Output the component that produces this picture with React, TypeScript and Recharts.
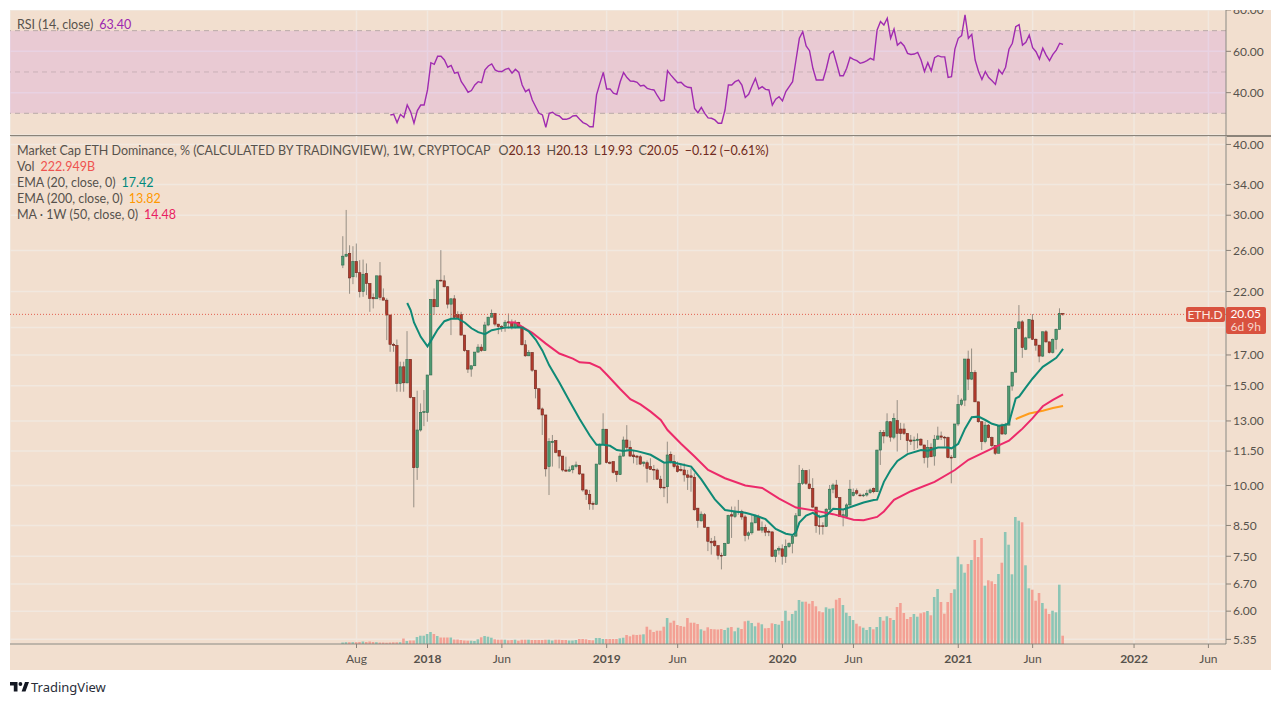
import { Bar, CartesianGrid, Cell, ComposedChart, Line, ReferenceArea, ReferenceLine, XAxis, YAxis } from 'recharts';

// weekly candles, index 0 is the first week on the chart
const opens = [
  24.5, 25.4, 25.68, 23.36, 24.85, 23.75, 22, 23.68, 22.73, 21.48,
  21.36, 23.45, 21.45, 21.24, 20, 17.75, 17.67, 15.14, 16.2, 15.18,
  16.7, 14.3, 10.75, 12.53, 13.45, 13.45, 15.67, 21.3, 20.68, 23.04,
  22.98, 22.43, 20.9, 21.36, 20.04, 20.04, 18.43, 17.3, 16.05, 16.27,
  17.2, 17.55, 17.3, 19.2, 19.82, 20.12, 19.27, 19.08, 19.12, 19.45,
  19.42, 19, 19.4, 19.06, 17.72, 16.94, 17.17, 15.98, 14.82, 13.65,
  13.32, 10.8, 11.9, 12, 11.52, 11.27, 10.65, 10.6, 10.66, 10.8,
  10.85, 10.48, 9.82, 9.64, 9.3, 9.26, 10.91, 11.82, 12.57, 10.98,
  11.02, 10.6, 10.45, 11.27, 12.03, 11.68, 11.32, 11.27, 11.24, 10.94,
  10.97, 10.8, 10.68, 10.65, 10.26, 9.93, 9.95, 11.35, 11.02, 10.83,
  10.68, 10.65, 10.44, 10.4, 10.34, 9.12, 8.66, 8.88, 8.44, 7.97,
  7.98, 7.83, 7.53, 7.52, 7.9, 8.88, 8.82, 8.97, 9, 8.8,
  8.16, 8.25, 8.59, 8.82, 8.34, 8.43, 8.3, 8.28, 7.5, 7.69,
  7.73, 7.5, 7.8, 7.9, 8.14, 8.84, 10.09, 10.62, 10.06, 9.88,
  9.16, 8.49, 8.49, 8.47, 9.08, 9.85, 10.02, 9.52, 8.82, 8.82,
  9.24, 9.6, 9.79, 9.62, 9.6, 9.62, 9.72, 9.88, 9.75, 11.55,
  12.4, 12.23, 12.96, 12.17, 13.02, 12.58, 12.58, 12.36, 12.03, 12,
  12, 12.07, 11.79, 11.22, 11.68, 11.27, 12.07, 12.23, 12.17, 12.15,
  11.22, 11.2, 12.84, 13.9, 14.15, 16.72, 15.41, 15.83, 14.05, 12.96,
  11.95, 12.78, 12.15, 11.76, 11.4, 12.78, 12.33, 12.78, 14.98, 15.85,
  18.93, 19.45, 17.4, 18.22, 19.59, 18.12, 17.69, 16.92, 18.68, 17.93,
  17.17, 18.1, 18.86, 20.13,
];
const highs = [
  27.55, 30.65, 26.55, 26.45, 26.74, 25, 25.05, 24.66, 22.73, 21.83,
  23.45, 24.8, 22.28, 21.4, 20, 17.86, 18.1, 16.54, 16.54, 18.73,
  16.7, 14.3, 14.7, 13.96, 14.74, 15.67, 21.3, 22.28, 23.04, 26.03,
  23.5, 22.5, 21.36, 21.68, 20.3, 20.26, 18.43, 17.3, 16.27, 17.2,
  17.76, 17.76, 19.45, 19.85, 20.45, 20.17, 19.27, 19.2, 19.59, 20.12,
  19.64, 19.59, 19.45, 19.1, 18.06, 17.34, 17.2, 15.98, 14.82, 13.73,
  13.32, 12.12, 12.28, 12, 11.55, 11.27, 11.24, 10.8, 10.87, 11.02,
  10.87, 10.48, 9.85, 9.82, 9.37, 10.91, 11.87, 13.41, 12.57, 11.05,
  11.02, 10.6, 11.4, 12.2, 12.78, 12, 11.55, 11.32, 11.32, 11.02,
  11.07, 11.17, 10.87, 10.72, 10.4, 10.94, 11.95, 11.48, 11.32, 11.02,
  10.94, 10.94, 10.65, 10.72, 10.51, 9.12, 9, 8.94, 8.44, 8.08,
  8.14, 7.83, 7.61, 7.92, 8.88, 9.18, 9.18, 9.43, 9.06, 8.88,
  8.3, 8.88, 8.88, 8.88, 8.64, 8.53, 8.36, 8.3, 7.71, 7.81,
  7.87, 8.03, 7.94, 8.19, 8.94, 10.87, 10.72, 10.65, 10.68, 10.3,
  9.16, 8.88, 8.61, 9.12, 10.02, 10.09, 10.23, 9.52, 9.06, 9.3,
  10.23, 9.88, 9.88, 9.69, 9.67, 9.82, 9.88, 9.92, 11.55, 12.53,
  12.53, 13.41, 12.96, 13.41, 14.15, 12.9, 12.87, 12.36, 12.28, 12.2,
  12.36, 12.12, 11.79, 12.03, 11.87, 12.28, 12.7, 12.45, 12.23, 12.2,
  11.32, 12.84, 14.45, 14.25, 16.72, 17.3, 17.45, 15.98, 14.05, 12.96,
  12.96, 12.84, 12.2, 11.76, 12.73, 12.87, 12.9, 14.98, 15.85, 18.93,
  20.82, 19.59, 18.3, 19.64, 20.07, 18.18, 17.69, 18.68, 18.81, 17.93,
  18.18, 18.93, 20.55, 20.13,
];
const lows = [
  24.2, 25.3, 21.8, 22.67, 23.3, 21.48, 21.53, 21.68, 20.26, 20.54,
  21.36, 21.24, 21.24, 18.06, 17.22, 17.22, 14.64, 14.64, 14.64, 15.14,
  14.25, 9.15, 10.23, 12.45, 12.73, 12.96, 15.67, 20, 20.68, 22.88,
  22.37, 20.54, 18.43, 19.72, 19.72, 18.43, 17.22, 15.8, 15.56, 16.27,
  17.15, 17.22, 17.3, 19.1, 19.8, 19.1, 18.5, 18.68, 18.68, 18.93,
  18.86, 18.93, 18.98, 17.67, 16.87, 16.92, 15.87, 14.25, 13.59, 12.28,
  10.37, 9.62, 10.8, 11.4, 10.72, 10.58, 10.58, 10.58, 10.51, 10.72,
  10.44, 9.75, 9.43, 9.06, 9.06, 9.26, 10.87, 11.82, 10.94, 10.9,
  10.5, 10.15, 10.44, 11.25, 11.55, 11.24, 10.94, 10.87, 10.87, 10.8,
  10.12, 10.65, 10.23, 10.23, 9.85, 9.54, 9.3, 10.94, 10.72, 10.54,
  10.58, 10.16, 9.82, 9.75, 9.03, 8.42, 8.64, 8.42, 7.66, 7.55,
  7.79, 7.4, 7.11, 7.52, 7.9, 8.08, 8.76, 8.88, 8.7, 7.97,
  8.03, 8.19, 8.59, 8.34, 8.25, 8.14, 8.14, 7.48, 7.32, 7.55,
  7.25, 7.3, 7.76, 7.59, 8.12, 8.84, 10.02, 10.02, 9.85, 9.12,
  8.25, 8.19, 8.19, 8.45, 9.03, 9.69, 9.49, 8.8, 8.47, 8.8,
  9.2, 9.56, 9.62, 9.56, 9.54, 9.56, 9.67, 9.69, 9.75, 10.87,
  11.87, 12.17, 11.95, 12.07, 11.48, 12.03, 12.28, 11.43, 11.79, 11.55,
  11.63, 11.74, 10.94, 10.75, 11.22, 10.84, 12.03, 12.03, 11.71, 11.17,
  10.09, 11.18, 12.73, 13.81, 13.81, 14.74, 15.35, 14.05, 12.9, 11.55,
  11.87, 12.12, 11.68, 11.32, 11.4, 12.28, 12.28, 12.78, 14.7, 15.85,
  18.86, 16.8, 17.34, 18.18, 18.06, 17.3, 16.5, 16.87, 17.86, 17.1,
  17.1, 17.38, 18.86, 19.93,
];
const closes = [
  25.4, 25.6, 23.25, 24.85, 23.75, 22, 23.6, 22.73, 21.4, 21.36,
  23.45, 21.48, 21.24, 20, 17.75, 17.67, 15.14, 16.2, 15.18, 16.7,
  14.3, 10.75, 12.53, 13.45, 13.5, 15.67, 21.3, 20.68, 23.04, 22.98,
  22.43, 20.9, 21.36, 19.8, 19.72, 18.43, 17.3, 16.05, 16.27, 17.2,
  17.55, 17.3, 19.2, 19.82, 20.12, 19.27, 19.08, 19.05, 19.42, 19.37,
  19, 19.4, 19.06, 17.72, 16.94, 17.17, 15.98, 14.82, 13.65, 13.32,
  10.7, 11.95, 11.97, 11.44, 11.27, 10.65, 10.6, 10.66, 10.83, 10.87,
  10.48, 9.82, 9.64, 9.28, 9.26, 10.91, 11.82, 12.57, 10.98, 10.95,
  10.55, 10.45, 11.27, 12.03, 11.68, 11.27, 11.24, 11.22, 10.91, 11,
  10.72, 10.68, 10.65, 10.26, 9.91, 9.9, 11.32, 11.02, 10.8, 10.58,
  10.62, 10.44, 10.34, 10.34, 9.06, 8.68, 8.9, 8.44, 7.97, 7.92,
  7.83, 7.53, 7.52, 7.9, 8.85, 8.83, 8.97, 9, 8.8, 8.16,
  8.25, 8.59, 8.82, 8.34, 8.43, 8.27, 8.27, 7.5, 7.69, 7.74,
  7.5, 7.8, 7.9, 8.14, 8.84, 10.09, 10.62, 10.09, 9.88, 9.16,
  8.49, 8.47, 8.47, 9.08, 9.85, 10.02, 9.52, 8.82, 8.88, 9.24,
  9.85, 9.72, 9.69, 9.6, 9.62, 9.69, 9.82, 9.75, 11.55, 12.4,
  12.23, 12.96, 12.17, 13.14, 12.36, 12.36, 12.36, 12, 11.97, 12.03,
  12.07, 11.79, 11.2, 11.68, 11.24, 12.07, 12.23, 12.17, 12.15, 11.2,
  11.18, 12.84, 13.9, 14.15, 16.72, 15.41, 15.83, 14.05, 12.96, 11.95,
  12.78, 12.15, 11.76, 11.4, 12.73, 12.33, 12.78, 14.98, 15.85, 18.93,
  19.45, 17.52, 18.22, 19.64, 18.12, 17.69, 16.92, 18.68, 17.93, 17.17,
  18.1, 18.86, 20.13, 20.05,
];
// relative volume, same weeks as the candles
const volumes = [
  1.5, 1.8, 1.8, 1.8, 1.8, 2, 2.5, 2, 2.5, 2,
  1.8, 1.5, 1.5, 1.3, 1.5, 1.7, 1.7, 1.8, 5.5, 3,
  3.5, 3.5, 7, 8.3, 8.3, 10, 12, 10, 8, 6.5,
  6.5, 6.5, 6.5, 4.5, 4.5, 4, 3.5, 3.3, 3.3, 3,
  4.7, 6.7, 8, 7.3, 6.3, 4.7, 4.3, 4.3, 4.3, 3.7,
  4, 4.3, 3.3, 4.3, 4.3, 4.3, 4, 4, 4, 4,
  4.3, 4.3, 3.5, 4.3, 4.3, 4, 4, 3.5, 3.5, 4,
  5, 5, 4.7, 4, 3.7, 6, 6, 5, 5, 5,
  5, 5, 5.7, 6.3, 9, 7.7, 9.3, 9, 9.3, 9.7,
  17.3, 14.3, 12, 13.3, 13.3, 17.3, 26, 21.3, 23.3, 19,
  18, 17.3, 26, 21.3, 21.3, 20, 14.7, 13.3, 16.7, 15,
  14.7, 14.5, 15, 14, 16.3, 17, 12.7, 16.3, 15, 22.7,
  23.3, 21, 17.7, 21.3, 19.7, 15.7, 16, 20.7, 20, 19.3,
  23, 33.3, 23.3, 30, 33.3, 44, 42.3, 42.3, 40.3, 43,
  37.7, 32.7, 31.7, 36.7, 35.3, 35.7, 44.3, 46, 39, 31.3,
  28, 24, 20.3, 17.7, 16.3, 14, 17, 14.7, 17, 27,
  23.3, 27.7, 26, 24, 37, 41, 31, 25, 27, 30,
  27.3, 30.7, 31.7, 33, 28.7, 47, 55, 42, 30.3, 42,
  51, 54.7, 87.3, 79.7, 71.3, 80, 84, 104, 87, 106,
  58.3, 63.7, 62.7, 60, 70, 81.3, 112, 99.3, 69.7, 127,
  123.3, 121.7, 78.7, 55.7, 54.3, 43.3, 51, 41, 35.3, 30,
  33.3, 31.7, 59.3, 8.3,
];
// RSI begins at week 14
const rsiFirstWeek = 14;
const rsiValues = [
  29.2, 29.5, 25.5, 29.5, 28, 34, 30.8, 25.2, 31.3, 34,
  34, 41.3, 54.5, 53.7, 57.6, 57.6, 55.8, 52.3, 53.2, 49.4,
  49.8, 45.3, 42.9, 40.2, 41, 43.7, 45.3, 44.8, 51, 52.9,
  53.9, 51, 50.2, 50.2, 51.3, 51.8, 49.4, 51.3, 49.8, 43.7,
  40.5, 41.6, 36.4, 33.2, 30, 29.2, 23.2, 30, 30.5, 29.2,
  28.7, 27.1, 27.1, 27.6, 28.7, 28.9, 27.1, 25.5, 24.8, 23.5,
  23.5, 38.9, 44.5, 49.8, 41.8, 41.8, 39.7, 39.2, 45.3, 49.7,
  47.3, 45.6, 45.5, 45, 43.2, 43.6, 42.1, 41.6, 41.3, 38.5,
  36, 36.4, 50.6, 48.5, 46.6, 44.8, 45, 43.4, 42.6, 42.4,
  32.4, 30.3, 32.9, 30, 27.8, 27.6, 26.8, 25.2, 25.2, 31.6,
  43.7, 43.7, 45.3, 46.1, 43.7, 37.7, 39.2, 43.2, 46.9, 41.8,
  42.9, 41.6, 41.3, 34, 36.8, 38, 36, 40.5, 42.9, 45.3,
  55.8, 66.3, 69.5, 62.6, 60.3, 51.8, 46.1, 46.1, 46.1, 51.8,
  58.7, 60, 54.2, 48.2, 48.2, 51.8, 57.1, 56.1, 55.5, 54.2,
  54.7, 55.5, 56.6, 55.8, 70.3, 74.4, 72.7, 76, 66.3, 70.8,
  63, 64.4, 62.6, 59, 58.5, 58.7, 59.5, 55.8, 50.2, 54.5,
  50.5, 56.9, 57.9, 57.3, 57.3, 47.4, 47.7, 61.1, 66.3, 67.6,
  77.6, 66.3, 68.2, 55.8, 50.2, 46.4, 50.2, 47.3, 45.8, 44,
  51, 49, 52.3, 61, 63.9, 71.9, 72.9, 63, 64.4, 67.9,
  61.8, 59.8, 56.3, 61.5, 58.2, 55.5, 58.5, 60.6, 63.9, 63.4,
];
// moving averages as [week, value] readings
const ema20: [number, number][] = [
  [19, 21], [20, 20.4], [21, 19.4], [23, 18.3], [25, 17.6], [26, 18], [28, 18.85], [30, 19.5], [32, 19.7],
  [34, 19.7], [36, 19.4], [38, 18.95], [40, 18.65], [42, 18.5], [44, 18.8], [46, 18.9], [48, 19], [51, 19],
  [53, 19], [55, 18.7], [57, 18.1], [59, 17.3], [61, 16.3], [64, 15.2], [67, 14.1], [70, 13.1], [73, 12.25],
  [75, 11.8], [77, 11.8], [79, 11.75], [81, 11.55], [83, 11.5], [85, 11.55], [87, 11.5], [91, 11.33],
  [95, 10.97], [97, 11], [100, 10.9], [103, 10.8], [106, 10.25], [110, 9.45], [113, 9.05], [116, 9],
  [119, 8.95], [122, 8.85], [125, 8.72], [128, 8.38], [131, 8.22], [133, 8.18], [134, 8.27], [135, 8.6],
  [137, 8.85], [139, 8.95], [141, 8.8], [143, 8.85], [145, 9.1], [148, 9.07], [151, 9.2], [154, 9.33],
  [157, 9.43], [158, 9.44], [160, 10.15], [162, 10.65], [164, 11.05], [167, 11.36], [171, 11.55], [173, 11.52],
  [176, 11.67], [179, 11.67], [180, 11.63], [182, 11.85], [184, 12.6], [186, 13.2], [188, 13.23], [190, 13.05],
  [192, 12.85], [194, 12.75], [196, 12.8], [197, 12.9], [199, 14.25], [200, 14.35], [202, 14.9], [204, 15.45],
  [206, 15.95], [207, 16.2], [209, 16.5], [211, 16.8], [212, 17.1], [213, 17.42],
];
const ema200: [number, number][] = [[199, 13.1], [203, 13.4], [207, 13.55], [210, 13.7], [213, 13.82]];
const ma50: [number, number][] = [
  [49, 19.4], [51, 19.4], [53, 19.05], [56, 18.6], [60, 17.8], [64, 17.1], [68, 16.75], [70, 16.5], [73, 16.45],
  [76, 16.15], [78, 15.7], [82, 14.8], [85, 14.2], [88, 13.9], [91, 13.5], [94, 13.05], [96, 12.53], [100, 11.85],
  [104, 11.25], [108, 10.65], [113, 10.3], [119, 10], [124, 9.9], [129, 9.48], [134, 9.14], [140, 9.02],
  [145, 8.9], [151, 8.7], [154, 8.68], [158, 8.8], [160, 9], [163, 9.43], [168, 9.77], [175, 10.15], [181, 10.65],
  [185, 11.1], [193, 11.7], [197, 12], [201, 12.6], [204, 13.15], [207, 13.8], [210, 14.16], [213, 14.48],
];

const priceTicks = [40, 34, 30, 26, 22, 19, 17, 15, 13, 11.5, 10, 8.5, 7.5, 6.7, 6, 5.35];
const rsiTicks = [80, 60, 40];
const weekTicks = [4, 25, 47, 78, 99, 130, 151, 182, 204, 234, 256];
const weekLabels = ['Aug', '2018', 'Jun', '2019', 'Jun', '2020', 'Jun', '2021', 'Jun', '2022', 'Jun'];

const lookup = (pairs: [number, number][]) => new Map(pairs.map(([w, v]) => [w, v]));
const ema20ByWeek = lookup(ema20);
const ema200ByWeek = lookup(ema200);
const ma50ByWeek = lookup(ma50);

const priceRows = opens.map((open, i) => ({
  week: i,
  open,
  high: highs[i],
  low: lows[i],
  close: closes[i],
  vol: volumes[i],
  ema20: ema20ByWeek.get(i) ?? null,
  ema200: ema200ByWeek.get(i) ?? null,
  ma50: ma50ByWeek.get(i) ?? null,
}));
const rsiRows = rsiValues.map((rsi, i) => ({ week: rsiFirstWeek + i, rsi }));

const WEEK_DOMAIN: [number, number] = [-98.5, 261.2];
const FONT = 'Lato, sans-serif';
const GRID = '#f1e8df';
const AXIS = '#8b8379';
const TEXT = '#57524c';

function Candle(props: any) {
  const { x, y, width, height, payload } = props;
  const { open, high, low, close } = payload;
  const span = Math.log(high / low) || 1;
  const yOf = (p: number) => y + (height * Math.log(high / p)) / span;
  const cx = x + width / 2;
  const up = close >= open;
  const top = yOf(Math.max(open, close));
  const bottom = yOf(Math.min(open, close));
  return (
    <g>
      <line x1={cx} x2={cx} y1={y} y2={y + height} stroke="#7f7a72" strokeOpacity={0.8} strokeWidth={1} />
      <rect
        x={cx - 1.2}
        y={top}
        width={2.4}
        height={Math.max(bottom - top, 0.8)}
        fill={up ? '#4f9a72' : '#b23a2c'}
        stroke={up ? '#2f6b4f' : '#6f2a20'}
        strokeWidth={0.6}
      />
    </g>
  );
}

function WeekTick({ x, y, payload }: any) {
  const label = weekLabels[weekTicks.indexOf(payload.value)];
  const isYear = label.length === 4;
  return (
    <text x={x} y={y + 13} textAnchor="middle" fontSize={12} fontFamily={FONT} fontWeight={isYear ? 700 : 400} fill={TEXT}>
      {label}
    </text>
  );
}

function LegendRow({ top, label, value, color }: { top: number; label: string; value: string; color: string }) {
  return (
    <div style={{ position: 'absolute', left: 7.5, top, whiteSpace: 'nowrap', color: TEXT, lineHeight: '16px' }}>
      {label}
      <span style={{ color, marginLeft: 6 }}>{value}</span>
    </div>
  );
}

export default function App() {
  return (
    <div style={{ position: 'absolute', left: 0, top: 0, width: 1280, height: 703, background: '#fff', fontFamily: FONT, fontSize: 12.5 }}>
      <div style={{ position: 'absolute', left: 9.5, top: 10, width: 1261, height: 660, background: '#f2dfcf', overflow: 'hidden' }}>
        <div style={{ position: 'absolute', left: 0, top: 0 }}>
          <ComposedChart width={1261} height={125} data={rsiRows} margin={{ top: 0, right: 0, bottom: 0, left: 0 }}>
            <CartesianGrid stroke={GRID} strokeWidth={1.5} />
            <XAxis dataKey="week" type="number" domain={WEEK_DOMAIN} ticks={weekTicks} hide allowDataOverflow />
            <YAxis
              orientation="right"
              width={45}
              domain={[19.5, 80]}
              ticks={rsiTicks}
              interval={0}
              allowDataOverflow
              tickFormatter={(v: number) => v.toFixed(2)}
              tick={{ fontSize: 12, fontFamily: FONT, fill: TEXT }}
              tickSize={5}
              stroke={AXIS}
            />
            <ReferenceArea y1={30} y2={70} fill="#9915ff" fillOpacity={0.1} stroke="none" />
            <ReferenceLine y={70} stroke="#b9aaa8" strokeDasharray="5 4" />
            <ReferenceLine y={50} stroke="#c9b0b8" strokeDasharray="5 4" />
            <ReferenceLine y={30} stroke="#b9aaa8" strokeDasharray="5 4" />
            <Line dataKey="rsi" type="linear" stroke="#a02bb0" strokeWidth={1.4} dot={false} isAnimationActive={false} />
          </ComposedChart>
        </div>

        <div style={{ position: 'absolute', left: 0, top: 125, width: 1261, height: 1.6, background: AXIS }} />

        <div style={{ position: 'absolute', left: 0, top: 126 }}>
          <ComposedChart width={1261} height={534} data={priceRows} margin={{ top: 0, right: 0, bottom: 0, left: 0 }}>
            <CartesianGrid stroke={GRID} strokeWidth={1.5} />
            <XAxis
              dataKey="week"
              type="number"
              domain={WEEK_DOMAIN}
              ticks={weekTicks}
              interval={0}
              height={26}
              allowDataOverflow
              tick={<WeekTick />}
              tickSize={4}
              stroke={AXIS}
            />
            <XAxis xAxisId="vol" dataKey="week" type="number" domain={WEEK_DOMAIN} hide allowDataOverflow />
            <YAxis
              orientation="right"
              width={45}
              scale="log"
              domain={[5.25, 41.4]}
              ticks={priceTicks}
              interval={0}
              allowDataOverflow
              tickFormatter={(v: number) => (v === 19 ? '' : v.toFixed(2))}
              tick={{ fontSize: 12, fontFamily: FONT, fill: TEXT }}
              tickSize={5}
              stroke={AXIS}
            />
            <YAxis yAxisId="vol" hide domain={[0, 508]} allowDataOverflow />
            <ReferenceLine y={20.05} stroke="#e2604f" strokeDasharray="1 2" />
            <Bar xAxisId="vol" yAxisId="vol" dataKey="vol" barSize={2.6} isAnimationActive={false}>
              {priceRows.map((r) => (
                <Cell key={r.week} fill={r.close >= r.open ? '#8cc5b5' : '#f3a094'} />
              ))}
            </Bar>
            <Bar dataKey={(r: any) => [r.low, r.high]} barSize={3} shape={<Candle />} isAnimationActive={false} />
            <Line dataKey="ema200" connectNulls type="linear" stroke="#ff9d1c" strokeWidth={2} dot={false} isAnimationActive={false} />
            <Line dataKey="ma50" connectNulls type="linear" stroke="#ec2a6a" strokeWidth={2} dot={false} isAnimationActive={false} />
            <Line dataKey="ema20" connectNulls type="linear" stroke="#0f8a76" strokeWidth={2} dot={false} isAnimationActive={false} />
          </ComposedChart>
        </div>

        {/* indicator legends */}
        <LegendRow top={7} label="RSI (14, close)" value="63.40" color="#9c27b0" />
        <div style={{ position: 'absolute', left: 7.5, top: 133, whiteSpace: 'nowrap', color: TEXT, lineHeight: '16px' }}>
          Market Cap ETH Dominance, % (CALCULATED BY TRADINGVIEW), 1W, CRYPTOCAP
          <span style={{ marginLeft: 8 }}>O</span><span style={{ color: '#6f2a20' }}>20.13</span>
          <span style={{ marginLeft: 6 }}>H</span><span style={{ color: '#6f2a20' }}>20.13</span>
          <span style={{ marginLeft: 6 }}>L</span><span style={{ color: '#6f2a20' }}>19.93</span>
          <span style={{ marginLeft: 6 }}>C</span><span style={{ color: '#6f2a20' }}>20.05</span>
          <span style={{ marginLeft: 6, color: '#6f2a20' }}>−0.12 (−0.61%)</span>
        </div>
        <LegendRow top={149} label="Vol" value="222.949B" color="#ef5350" />
        <LegendRow top={165} label="EMA (20, close, 0)" value="17.42" color="#00897b" />
        <LegendRow top={181} label="EMA (200, close, 0)" value="13.82" color="#ff9800" />
        <LegendRow top={197} label="MA · 1W (50, close, 0)" value="14.48" color="#e91e63" />

        {/* last price labels */}
        <div style={{ position: 'absolute', left: 1176, top: 296.5, width: 39, height: 15, background: '#d9523f', borderRadius: 2, color: '#fbe9e2', fontSize: 12, lineHeight: '15px', textAlign: 'center' }}>
          ETH.D
        </div>
        <div style={{ position: 'absolute', left: 1216, top: 296.5, width: 40.5, height: 27.5, background: '#d9523f', borderRadius: 2, color: '#fff', fontSize: 12, lineHeight: '13.5px', textAlign: 'center' }}>
          20.05
          <div style={{ color: '#f6d5ca' }}>6d 9h</div>
        </div>
      </div>

      {/* footer logo */}
      <svg style={{ position: 'absolute', left: 9.5, top: 682 }} width={19} height={10} viewBox="0 0 19 10">
        <path d="M0 0h7.5v9.5H3.8V3.6H0z M11.6 9.5L15 0h4l-3.5 9.5z" fill="#131722" />
        <circle cx={10.4} cy={2} r={1.9} fill="#131722" />
      </svg>
      <div style={{ position: 'absolute', left: 31, top: 678, fontFamily: '"Noto Sans", sans-serif', fontSize: 13, lineHeight: '18px', color: '#2a2e39' }}>
        TradingView
      </div>
    </div>
  );
}
